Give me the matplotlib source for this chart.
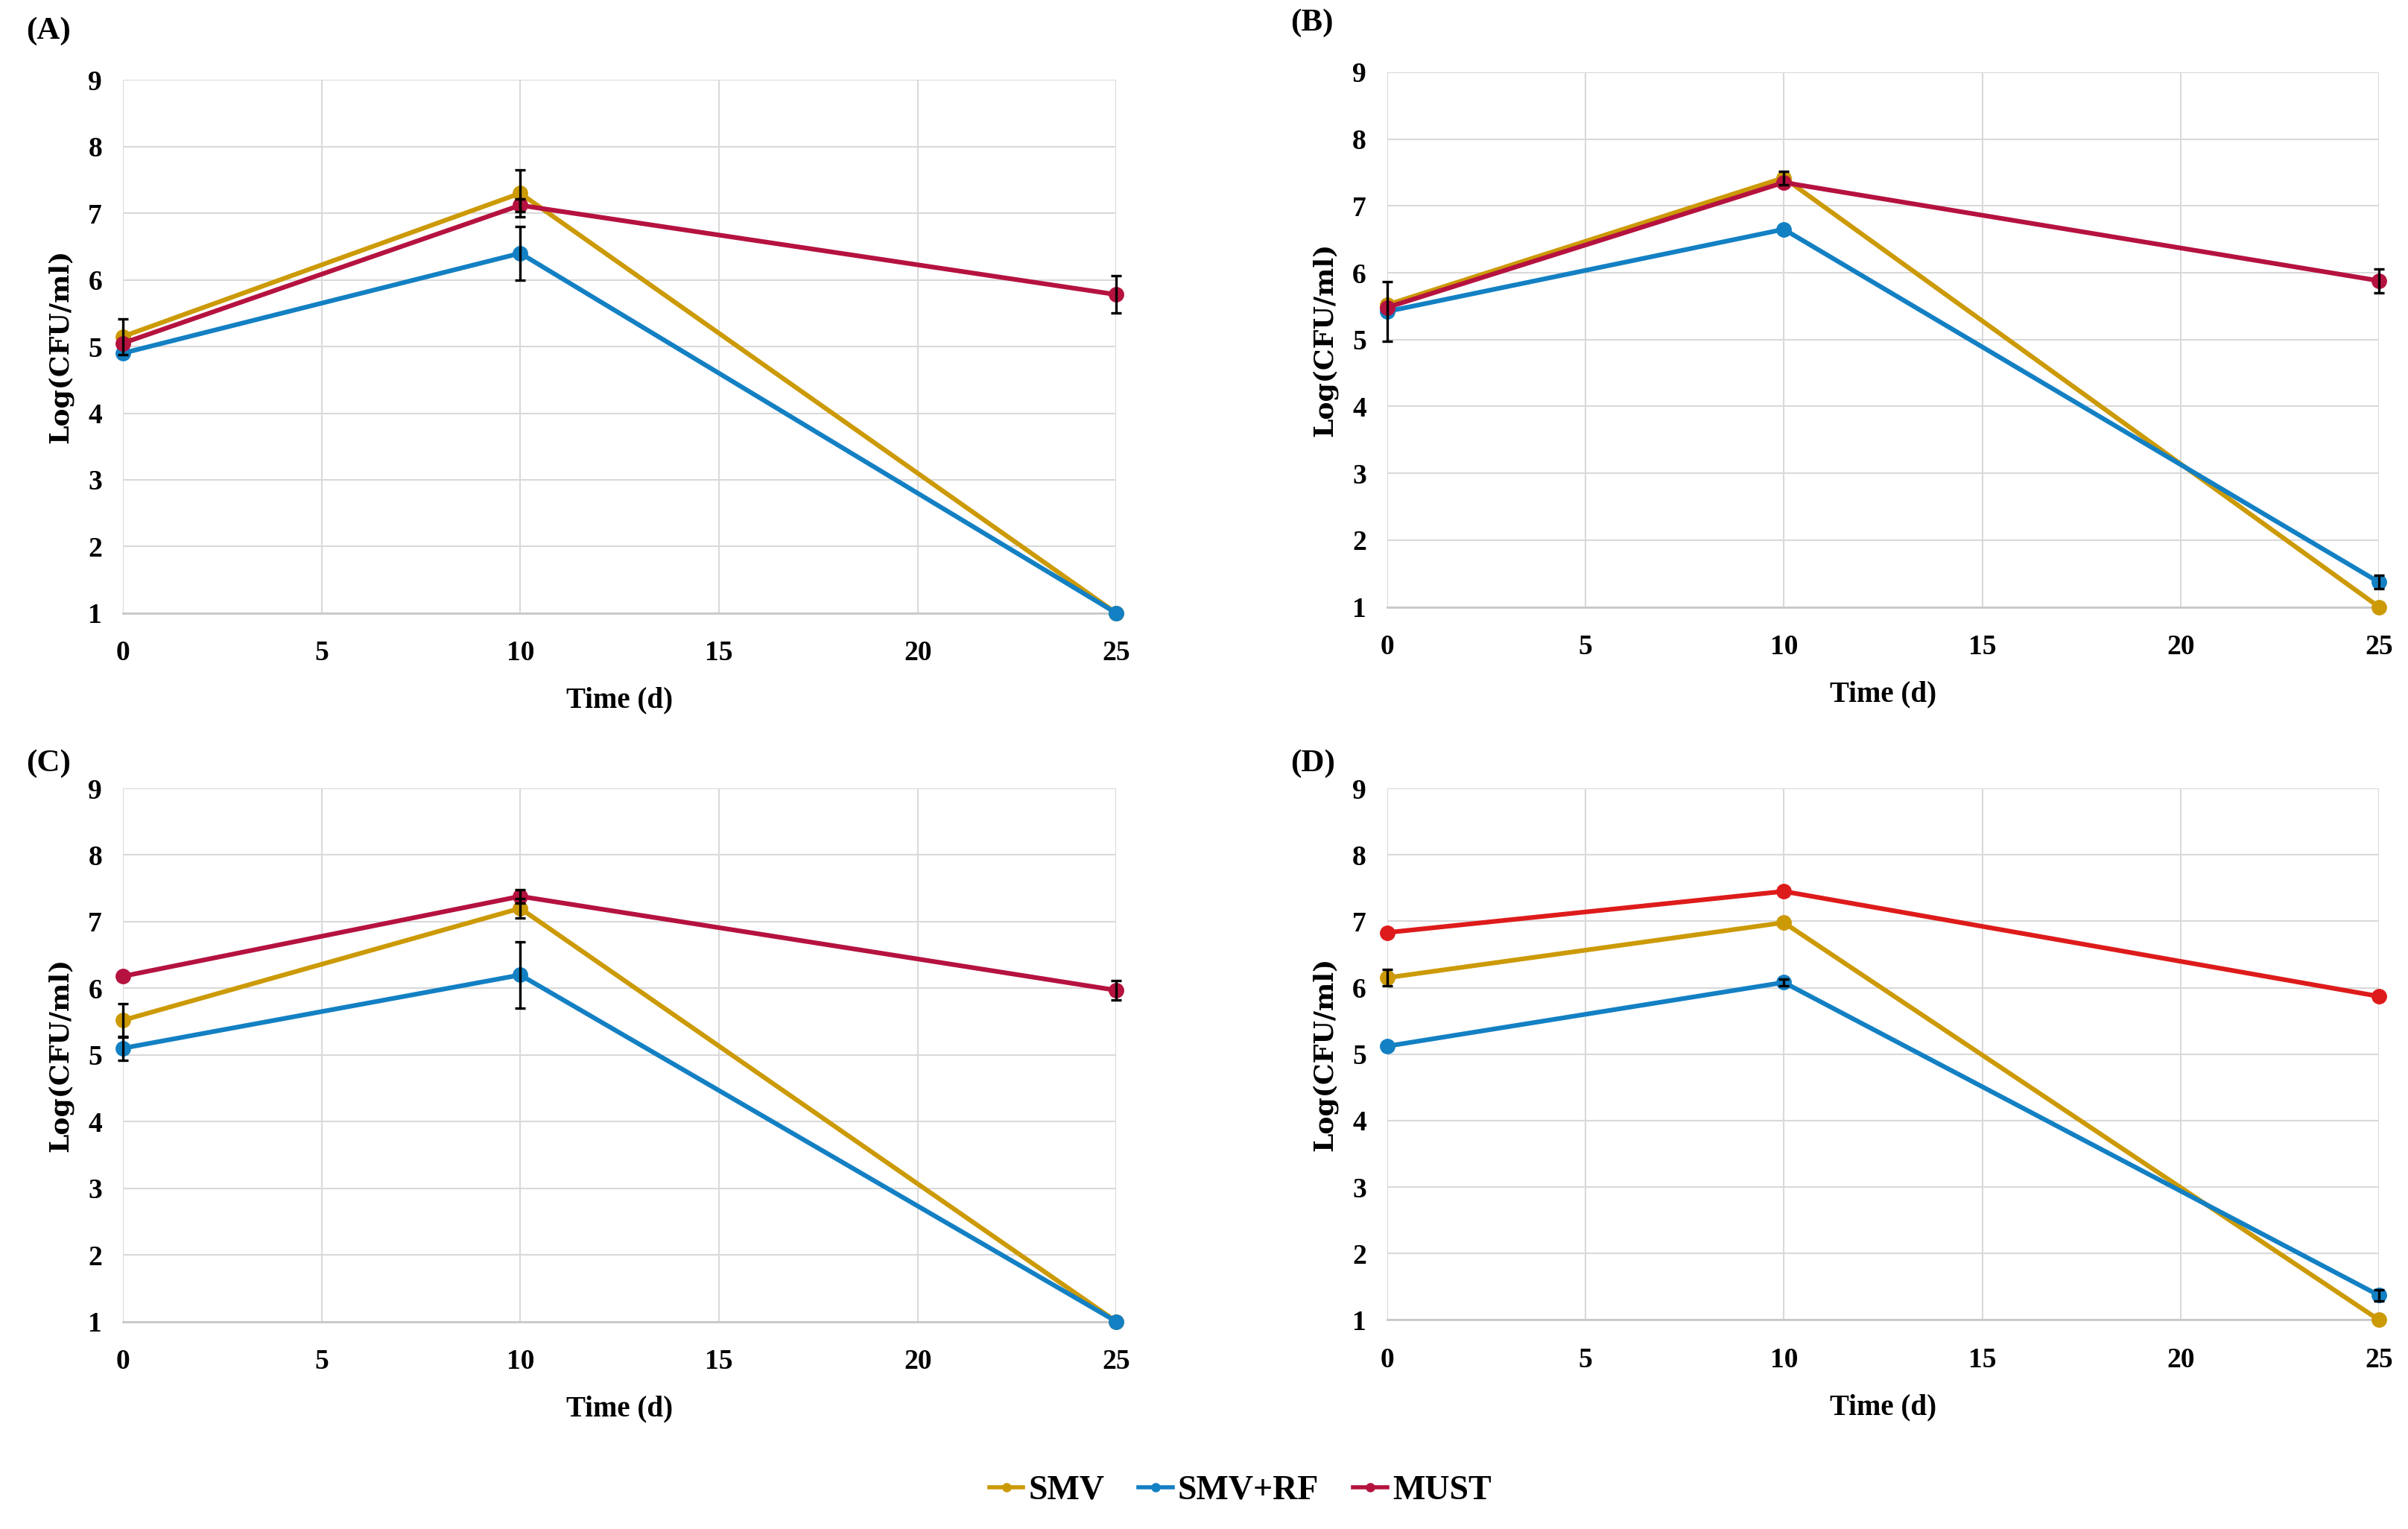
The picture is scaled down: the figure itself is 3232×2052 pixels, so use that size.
import numpy as np
import matplotlib
matplotlib.use("Agg")
import matplotlib.pyplot as plt

# time points (days)
days = [0, 10, 25]

# panel A
a_smv = [5.15, 7.30, 1.00]
a_rf = [4.90, 6.40, 1.00]
a_must = [5.05, 7.12, 5.78]
a_smv_err = [0.27, 0.35, 0.0]
a_rf_err = [0.0, 0.40, 0.0]
a_must_err = [0.0, 0.10, 0.28]

# panel B
b_smv = [5.52, 7.42, 1.00]
b_rf = [5.42, 6.65, 1.37]
b_must = [5.48, 7.35, 5.88]
b_smv_err = [0.0, 0.10, 0.0]
b_rf_err = [0.45, 0.0, 0.10]
b_must_err = [0.0, 0.0, 0.18]

# panel C
c_smv = [5.52, 7.20, 1.00]
c_rf = [5.10, 6.20, 1.00]
c_must = [6.18, 7.38, 5.97]
c_smv_err = [0.25, 0.15, 0.0]
c_rf_err = [0.18, 0.50, 0.0]
c_must_err = [0.0, 0.10, 0.15]

# panel D
d_smv = [6.15, 6.98, 1.00]
d_rf = [5.12, 6.08, 1.37]
d_must = [6.83, 7.45, 5.87]
d_smv_err = [0.12, 0.0, 0.0]
d_rf_err = [0.0, 0.05, 0.08]
d_must_err = [0.0, 0.0, 0.0]

panel_labels = ['(A)', '(B)', '(C)', '(D)']
series_names = ['SMV', 'SMV+RF', 'MUST']

gold = '#CC9A06'
blue = '#1380C3'
crimson = '#B5123F'
red = '#DE1B1B'

plt.rcParams['font.family'] = ['Liberation Serif', 'DejaVu Serif']
plt.rcParams['font.weight'] = 'bold'

fig = plt.figure(figsize=(32.32, 20.52), dpi=100)

boxes = [
    [0.051, 0.599, 0.4126, 0.3487],
    [0.576, 0.603, 0.412, 0.3498],
    [0.051, 0.1357, 0.4126, 0.3487],
    [0.576, 0.1367, 0.412, 0.3477],
]
panels = [
    (a_smv, a_rf, a_must, a_smv_err, a_rf_err, a_must_err, crimson),
    (b_smv, b_rf, b_must, b_smv_err, b_rf_err, b_must_err, crimson),
    (c_smv, c_rf, c_must, c_smv_err, c_rf_err, c_must_err, crimson),
    (d_smv, d_rf, d_must, d_smv_err, d_rf_err, d_must_err, red),
]

handles = []
for i, (box, p) in enumerate(zip(boxes, panels)):
    ax = fig.add_axes(box)
    smv, rf, must, smv_e, rf_e, must_e, must_col = p
    for vals, errs, col in [(smv, smv_e, gold), (rf, rf_e, blue), (must, must_e, must_col)]:
        ax.plot(days, vals, color=col, lw=4.5, marker='o', ms=14, zorder=3, clip_on=False)
        e = np.array(errs)
        mask = e > 0
        if mask.any():
            eb = ax.errorbar(np.array(days)[mask], np.array(vals)[mask], yerr=e[mask],
                             fmt='none', ecolor='black', elinewidth=2.4, capsize=5,
                             capthick=2.4, zorder=4)
            for art in eb.get_children():
                art.set_clip_on(False)
    ax.set_xlim(0, 25)
    ax.set_ylim(1, 9)
    ax.set_xticks([0, 5, 10, 15, 20, 25])
    ax.set_yticks(range(1, 10))
    ax.grid(True, color='#d9d9d9', lw=1.5)
    ax.set_axisbelow(True)
    for s in ['top', 'right', 'left']:
        ax.spines[s].set_visible(False)
    ax.spines['bottom'].set_color('#c8c8c8')
    ax.spines['bottom'].set_linewidth(2)
    ax.spines['bottom'].set_zorder(1)
    ax.tick_params(axis='x', length=0, labelsize=27, pad=26)
    ax.tick_params(axis='y', length=0, labelsize=27, pad=20)
    ax.set_xlabel('Time (d)', fontsize=28, fontweight='bold', labelpad=20)
    ax.set_ylabel('Log(CFU/ml)', fontsize=26, fontweight='bold', labelpad=14,
                  family=['DejaVu Serif'])
    ax.text(-0.097, 1.065 if i < 2 else 1.02, panel_labels[i], transform=ax.transAxes,
            fontsize=31, fontweight='bold', ha='left', va='bottom')

# legend
for name, col in zip(series_names, [gold, blue, crimson]):
    handles.append(plt.Line2D([], [], color=col, lw=4, marker='o', ms=8, label=name))
fig.legend(handles=handles, loc='center', bbox_to_anchor=(0.515, 0.025), ncol=3,
           frameon=False, fontsize=33, handlelength=1.0, handletextpad=0.15,
           columnspacing=1.0)

fig.savefig('out.png', dpi=100)
